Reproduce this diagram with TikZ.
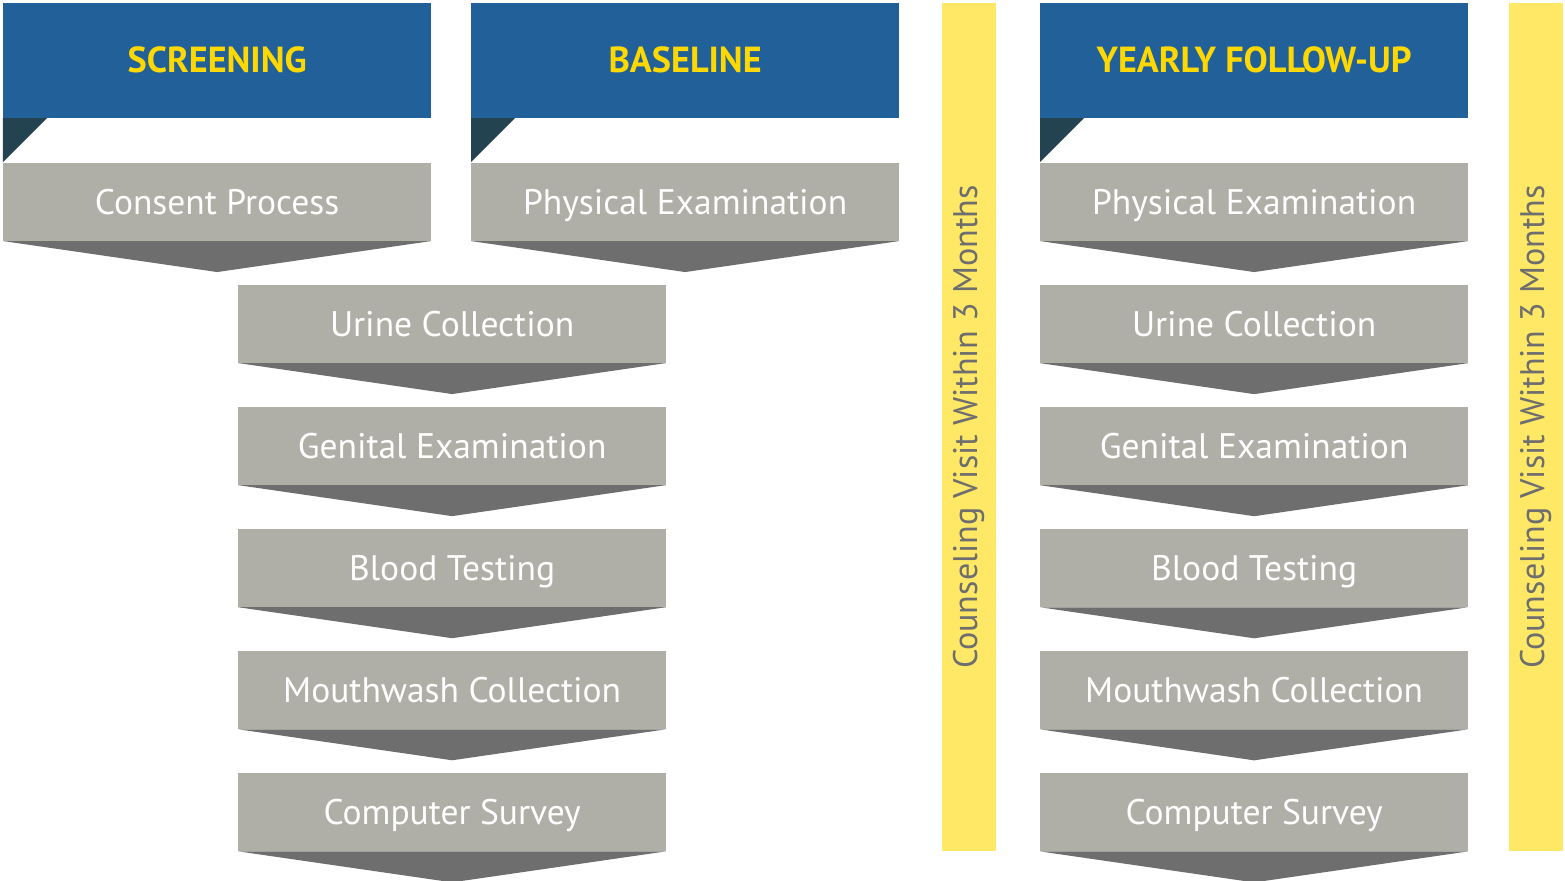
\documentclass[tikz,border=0pt]{standalone}
\usepackage{fontspec}
\setmainfont{PT Sans}
\usetikzlibrary{positioning}
\definecolor{hdrblue}{HTML}{22609A}
\definecolor{hdrgold}{HTML}{FFD800}
\definecolor{stepgray}{HTML}{B0AFA7}
\definecolor{tipgray}{HTML}{6E6E6E}
\definecolor{flagdark}{HTML}{22434F}
\definecolor{baryellow}{HTML}{FFE866}
\begin{document}
\begin{tikzpicture}[x=0.01cm,y=-0.01cm]
        \tikzstyle{header}=[fill=hdrblue,text=hdrgold,font=\bfseries\fontsize{10.3}{12}\selectfont,text height=0.7em,text depth=0pt,minimum width=4.28cm,minimum height=1.15cm,inner sep=0,outer sep=0,anchor=north west]
        \tikzstyle{stepbox}=[fill=stepgray,text=white,font=\fontsize{10.1}{12}\selectfont,text height=0.7em,text depth=0pt,minimum width=4.28cm,minimum height=0.78cm,inner sep=0,outer sep=0]
        \tikzstyle{tip}=[fill=tipgray]
        \tikzstyle{flag}=[fill=flagdark]
        \tikzstyle{visit bar}=[fill=baryellow,text=tipgray,font=\fontsize{9.7}{12}\selectfont,rotate=90,minimum width=8.48cm,minimum height=0.54cm,inner sep=0,outer sep=0]

        \useasboundingbox (0,0) rectangle (1565,881);

        % headers
        \node[header] (screening) at (3,3) {SCREENING};
        \node[header] (baseline) at (471,3) {BASELINE};
        \node[header] (yearly) at (1040,3) {YEARLY FOLLOW-UP};
        \foreach \h in {screening,baseline,yearly}
        \fill[flag] (\h.south west) -- ++(44,0) -- ++(-44,44) -- cycle;

        % screening and baseline
        \node[stepbox,anchor=north west] (consent) at (3,163) {Consent Process};
        \node[stepbox,anchor=north west] (physA) at (471,163) {Physical Examination};
        \node[stepbox,anchor=north west] (urineA) at (238,285) {Urine Collection};
        \node[stepbox,below=0.44cm of urineA] (genitalA) {Genital Examination};
        \node[stepbox,below=0.44cm of genitalA] (bloodA) {Blood Testing};
        \node[stepbox,below=0.44cm of bloodA] (mouthA) {Mouthwash Collection};
        \node[stepbox,below=0.44cm of mouthA] (surveyA) {Computer Survey};

        % yearly follow-up
        \node[stepbox,anchor=north west] (physB) at (1040,163) {Physical Examination};
        \node[stepbox,below=0.44cm of physB] (urineB) {Urine Collection};
        \node[stepbox,below=0.44cm of urineB] (genitalB) {Genital Examination};
        \node[stepbox,below=0.44cm of genitalB] (bloodB) {Blood Testing};
        \node[stepbox,below=0.44cm of bloodB] (mouthB) {Mouthwash Collection};
        \node[stepbox,below=0.44cm of mouthB] (surveyB) {Computer Survey};

        \foreach \n in {consent,physA,urineA,genitalA,bloodA,mouthA,surveyA,physB,urineB,genitalB,bloodB,mouthB,surveyB}
        \fill[tip] (\n.south west) -- (\n.south east) -- ([yshift=-0.31cm]\n.south) -- cycle;

        % counseling bars
        \node[visit bar] (visitA) at (969,427) {Counseling Visit Within 3 Months};
        \node[visit bar] (visitB) at (1536,427) {Counseling Visit Within 3 Months};
\end{tikzpicture}
\end{document}
